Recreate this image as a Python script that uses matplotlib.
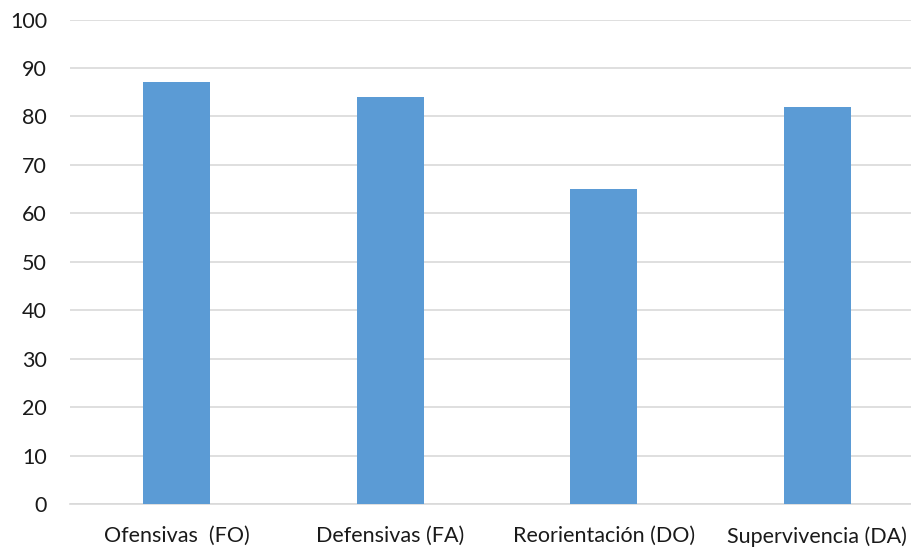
import matplotlib.pyplot as plt
import numpy as np

categorias = ['Ofensivas  (FO)', 'Defensivas (FA)', 'Reorientación (DO)', 'Supervivencia (DA)']
valores = [87, 84, 65, 82]

plt.rcParams['font.family'] = ['Lato', 'DejaVu Sans']

fig = plt.figure(figsize=(9.12, 5.48), dpi=100)
# plot area runs a little past the right edge of the figure
ax = fig.add_axes([70/912, 44/548, 854/912, 484.5/548])

x = np.arange(len(categorias))
ax.bar(x, valores, width=0.315, color='#5B9BD5', zorder=3)

ax.set_xlim(-0.5, len(categorias) - 0.5)
ax.set_ylim(0, 100)
ax.set_yticks(np.arange(0, 101, 10))
ax.set_xticks(x)
ax.set_xticklabels(categorias)

# grid lines like a spreadsheet chart
ax.yaxis.grid(True, color='#D9D9D9', linewidth=1.2, zorder=0)
for s in ['top', 'right', 'left']:
    ax.spines[s].set_visible(False)
ax.spines['bottom'].set_color('#D9D9D9')
ax.spines['bottom'].set_linewidth(1.2)

ax.tick_params(axis='both', length=0, colors='#1a1a1a')
ax.tick_params(axis='y', pad=16.5, labelsize=15.5)
ax.tick_params(axis='x', pad=16, labelsize=15.5)

fig.savefig('out.png', dpi=100)
